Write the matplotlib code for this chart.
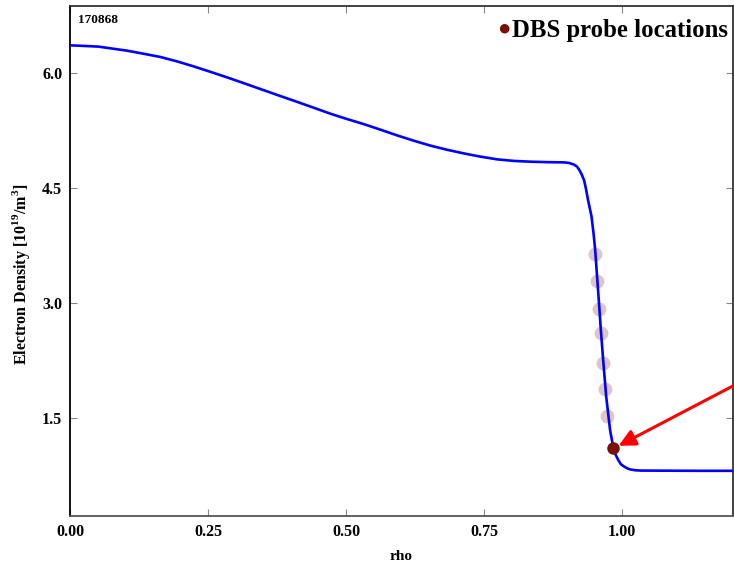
import matplotlib
matplotlib.use("Agg")
import matplotlib.pyplot as plt

plt.rcParams['font.family'] = ['Liberation Serif', 'DejaVu Serif']
plt.rcParams['mathtext.fontset'] = 'custom'
plt.rcParams['mathtext.rm'] = 'Liberation Serif:bold'
plt.rcParams['mathtext.bf'] = 'Liberation Serif:bold'

# Electron density profile
rho = [0.0, 0.05, 0.102, 0.13, 0.1625, 0.193, 0.223, 0.253, 0.2836, 0.314,
       0.344, 0.374, 0.4045, 0.438, 0.471, 0.50, 0.5316, 0.562, 0.592, 0.622,
       0.6527, 0.683, 0.713, 0.743, 0.7738, 0.804, 0.834, 0.865, 0.8947, 0.904,
       0.9129, 0.918, 0.922, 0.9265, 0.931, 0.9345, 0.938, 0.9444, 0.948, 0.951,
       0.9535, 0.9575, 0.9613, 0.966, 0.971, 0.978, 0.984, 0.988, 0.9927, 0.9977,
       1.004, 1.010, 1.016, 1.024, 1.034, 1.143, 1.21]
ne = [6.356, 6.340, 6.287, 6.250, 6.205, 6.147, 6.082, 6.012, 5.939, 5.863,
      5.787, 5.711, 5.635, 5.550, 5.465, 5.398, 5.329, 5.256, 5.182, 5.113,
      5.048, 4.994, 4.947, 4.905, 4.869, 4.849, 4.839, 4.833, 4.830, 4.822,
      4.800, 4.775, 4.735, 4.675, 4.595, 4.480, 4.343, 4.126, 3.909, 3.691,
      3.440, 3.040, 2.648, 2.210, 1.778, 1.343, 1.105, 1.020, 0.952, 0.895,
      0.862, 0.838, 0.825, 0.816, 0.812, 0.809, 0.809]

# DBS probe locations (faint) and the highlighted channel
probe_rho = [0.950, 0.954, 0.958, 0.961, 0.965, 0.969, 0.972]
probe_ne = [3.64, 3.29, 2.92, 2.61, 2.22, 1.88, 1.53]
sel_rho = 0.984
sel_ne = 1.11

shot = "170868"
xticks = [0.0, 0.25, 0.5, 0.75, 1.0]
xticklabels = ["0.00", "0.25", "0.50", "0.75", "1.00"]
yticks = [1.5, 3.0, 4.5, 6.0]
yticklabels = ["1.5", "3.0", "4.5", "6.0"]

fig = plt.figure(figsize=(7.34, 5.63), dpi=100)
ax = fig.add_axes([0.096, 0.0835, 0.902, 0.906])

ax.plot(rho, ne, color='#0000ff', lw=1.9, zorder=3,
        solid_joinstyle='round', solid_capstyle='round')
ax.plot(probe_rho, probe_ne, 'o', color='#d9beb9', ms=10, mec='none', alpha=0.85, zorder=2)
ax.plot([sel_rho], [sel_ne], 'o', color='#7a1000', ms=9, mec='none', zorder=4)

ax.annotate('', xy=(0.9935, 1.135), xytext=(1.2046, 1.93),
            xycoords='data', textcoords='data', annotation_clip=False,
            arrowprops=dict(arrowstyle='-|>,head_length=1.0,head_width=0.5',
                            color='#ff0000', lw=2.2, shrinkA=0, shrinkB=0))

ax.set_xlim(0, 1.2)
ax.set_ylim(0.22, 6.87)
ax.set_xticks(xticks)
ax.set_xticklabels(xticklabels)
ax.set_yticks(yticks)
ax.set_yticklabels(yticklabels)
ax.tick_params(direction='in', length=5, width=0.8, color='#888888',
               top=True, right=True, labelsize=11.5, pad=6)
for lab in ax.get_xticklabels() + ax.get_yticklabels():
    lab.set_fontweight('bold')

ax.spines['left'].set_color('black')
ax.spines['bottom'].set_color('#555555')
ax.spines['top'].set_color('#333333')
ax.spines['right'].set_color('#333333')
for s in ax.spines.values():
    s.set_linewidth(1.3)

ax.set_xlabel('rho', fontsize=11, fontweight='bold', labelpad=7)
ax.set_ylabel(r'Electron Density [10$^{19}$/m$^{3}$]', fontsize=11.5, fontweight='bold')
ax.yaxis.set_label_coords(-0.058, 0.473)

ax.text(0.011, 0.985, shot, transform=ax.transAxes, fontsize=9.5, fontweight='bold',
        va='top', ha='left')

fig.text(0.686, 0.946, '\u25cf', color='#7a1000', fontsize=16, va='center', ha='center')
fig.text(0.697, 0.946, 'DBS probe locations', fontsize=17.8, fontweight='bold',
         va='center', ha='left')

fig.savefig('out.png', dpi=100)
